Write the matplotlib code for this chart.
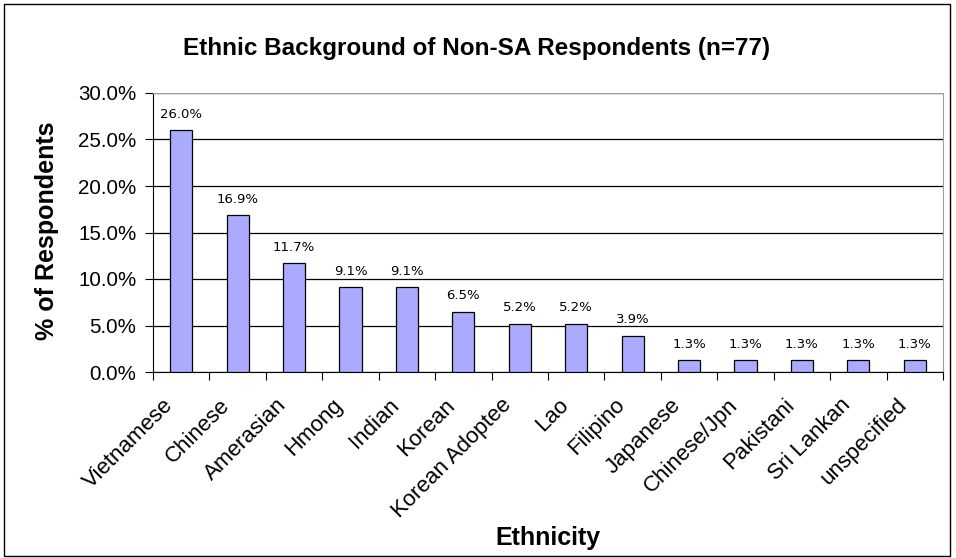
import matplotlib
matplotlib.use("Agg")
import matplotlib.pyplot as plt
from matplotlib.patches import Rectangle
from matplotlib.ticker import FuncFormatter, MultipleLocator
from matplotlib.transforms import offset_copy

plt.rcParams['font.family'] = ['Liberation Sans', 'DejaVu Sans']

categories = ["Vietnamese", "Chinese", "Amerasian", "Hmong", "Indian", "Korean",
              "Korean Adoptee", "Lao", "Filipino", "Japanese", "Chinese/Jpn",
              "Pakistani", "Sri Lankan", "unspecified"]
values = [26.0, 16.9, 11.7, 9.1, 9.1, 6.5, 5.2, 5.2, 3.9, 1.3, 1.3, 1.3, 1.3, 1.3]

W, H = 956, 558
fig = plt.figure(figsize=(W / 100, H / 100), dpi=100)
fig.patches.append(Rectangle((4 / W, 2 / H), 946 / W, 552 / H,
                             transform=fig.transFigure, fill=False,
                             edgecolor='black', linewidth=1.0))

ax = fig.add_axes([153 / W, 1 - 372 / H, 790 / W, 279 / H])
x = list(range(len(categories)))
ax.bar(x, values, width=0.39, color='#aaabff', edgecolor='black', linewidth=0.9,
       zorder=3)
for xi, v in zip(x, values):
    ax.text(xi, v + 1.0, f"{v:.1f}%", ha='center', va='bottom', fontsize=9.5,
            family='DejaVu Sans', zorder=4)

ax.set_xlim(-0.5, len(categories) - 0.5)
ax.set_ylim(0, 30)
ax.yaxis.set_major_locator(MultipleLocator(5))
ax.yaxis.set_major_formatter(FuncFormatter(lambda v, p: f"{v:.1f}%"))
ax.yaxis.grid(True, color='black', linewidth=0.9, zorder=0)
ax.set_axisbelow(True)

# tick marks sit between categories
ax.set_xticks([i + 0.5 for i in range(-1, len(categories))])
ax.set_xticklabels([])
ax.tick_params(axis='x', length=6, direction='out')
ax.tick_params(axis='y', length=6, pad=6, labelsize=14.8)

# slanted category names, ending just below-left of each bar
label_tf = offset_copy(ax.get_xaxis_transform(), fig=fig, x=-11, y=-30,
                       units='dots')
for xi, name in zip(x, categories):
    ax.text(xi, 0, name, transform=label_tf, rotation=45, ha='right',
            va='center', rotation_mode='anchor', fontsize=16, clip_on=False)

for side in ('top', 'right'):
    ax.spines[side].set_color('#a0a0a0')
ax.spines['left'].set_color('black')
ax.spines['bottom'].set_color('black')

fig.text(47 / W, 1 - 231 / H, "% of Respondents", rotation=90, ha='center',
         va='center', fontsize=18, fontweight='bold')
fig.text(548 / W, 1 - 538 / H, "Ethnicity", ha='center', va='center',
         fontsize=18, fontweight='bold')
fig.text(477 / W, 1 - 48 / H, "Ethnic Background of Non-SA Respondents (n=77)",
         ha='center', va='center', fontsize=17.5, fontweight='bold')

fig.savefig("out.png", dpi=100)
